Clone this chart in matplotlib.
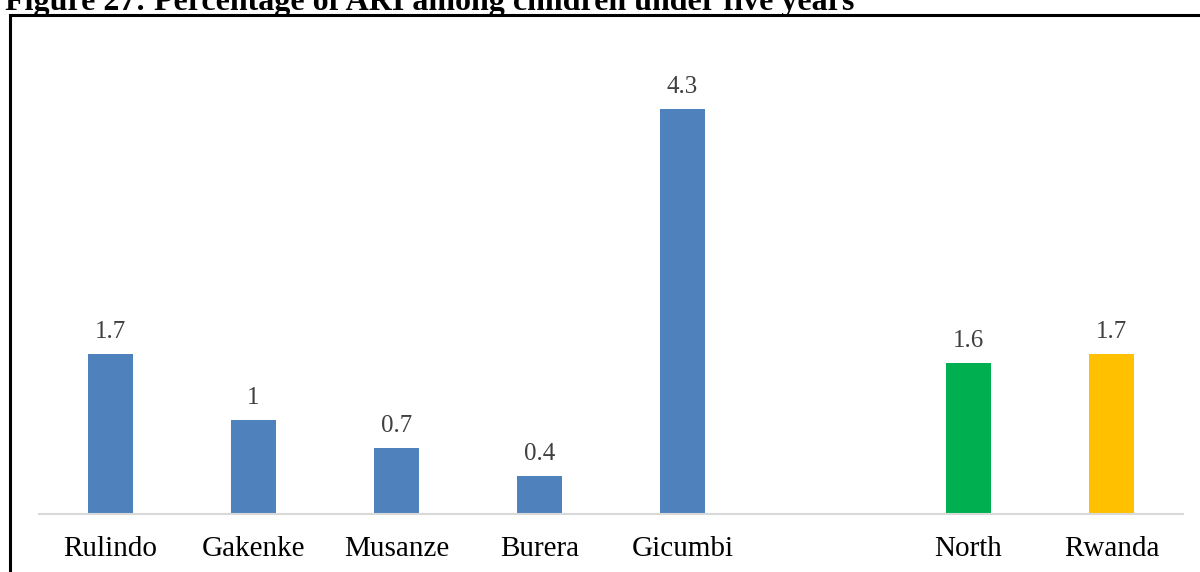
import matplotlib
matplotlib.use("Agg")
import matplotlib.pyplot as plt
from matplotlib.patches import Rectangle

categories = ["Rulindo", "Gakenke", "Musanze", "Burera", "Gicumbi", "", "North", "Rwanda"]
values = [1.7, 1.0, 0.7, 0.4, 4.3, None, 1.6, 1.7]
labels = ["1.7", "1", "0.7", "0.4", "4.3", "", "1.6", "1.7"]
colors = ["#4F81BD", "#4F81BD", "#4F81BD", "#4F81BD", "#4F81BD", "#FFFFFF", "#00B050", "#FFC000"]

plt.rcParams['font.family'] = ['Liberation Serif', 'DejaVu Serif']

W, H = 1200, 572
fig = plt.figure(figsize=(W/100, H/100), dpi=100)

ax_bottom = (H - 514) / H
ax_height = (405 / 4.3 * 5.0) / H
ax = fig.add_axes([39 / W, ax_bottom, (1183 - 39) / W, ax_height])

xs = list(range(len(categories)))
for x, v, c, lab in zip(xs, values, colors, labels):
    if v is None:
        continue
    ax.bar(x, v, width=0.32, color=c, zorder=2)
    ax.text(x, v + 0.12, lab, ha="center", va="bottom", fontsize=18, color="#404040")

ax.set_xlim(-0.5, len(categories) - 0.5)
ax.set_ylim(0, 5.0)
ax.set_xticks(xs)
ax.set_xticklabels(categories, fontsize=21, color="black")
ax.tick_params(axis="x", length=0, pad=16)
ax.set_yticks([])
for s in ["top", "right", "left"]:
    ax.spines[s].set_visible(False)
ax.spines["bottom"].set_color("#D9D9D9")
ax.spines["bottom"].set_linewidth(1.5)

# outer border (extends beyond right/bottom edges)
fig.patches.append(Rectangle((9.5 / W, -0.1), 1.2, (H - 14.5) / H + 0.1,
                             transform=fig.transFigure, fill=False,
                             edgecolor="black", linewidth=2.2))

fig.text(5 / W, (H - 10) / H, "Figure 27: Percentage of ARI among children under five years",
         fontsize=23, fontweight="bold", ha="left", va="baseline", color="black")

fig.savefig("out.png", dpi=100)
